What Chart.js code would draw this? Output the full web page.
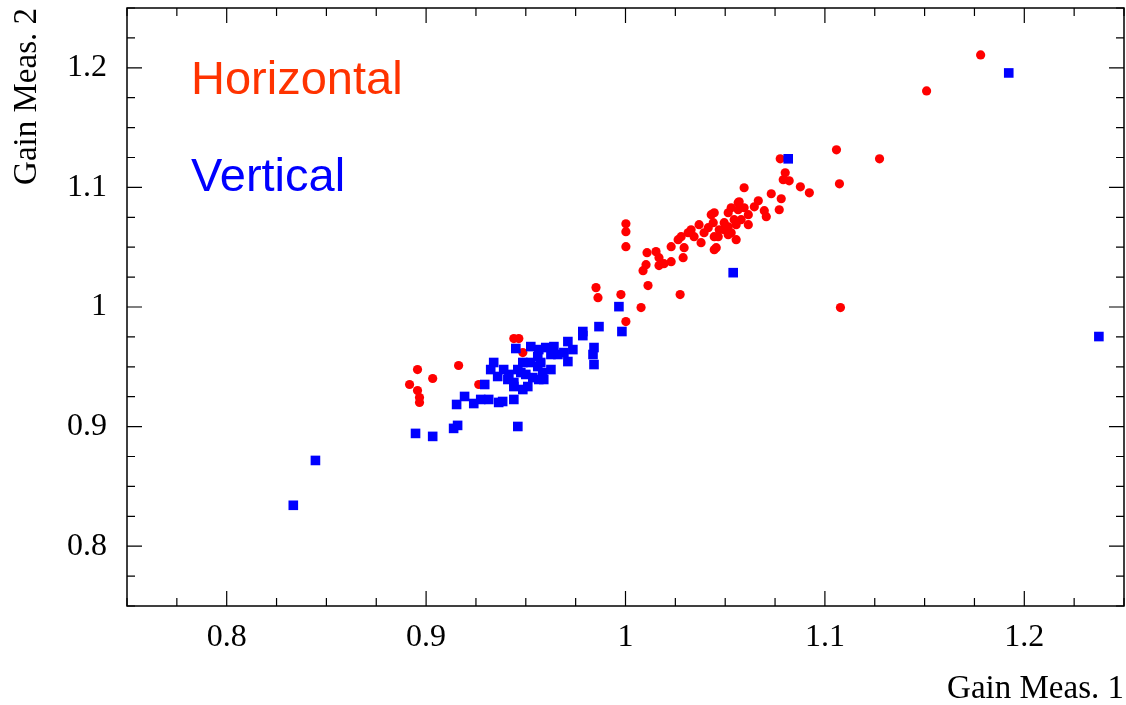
<!DOCTYPE html>
<html>
<head>
<meta charset="utf-8">
<script src="https://cdn.jsdelivr.net/npm/chart.js@4/dist/chart.umd.min.js"></script>
<style>
  html, body { margin: 0; padding: 0; background: #fff; overflow: hidden; }
  #wrap { width: 1126px; height: 705px; position: relative; }
</style>
</head>
<body>
<div id="wrap"><canvas id="chartGain"></canvas></div>
<script>
// Horizontal (red circles)
const horizX = [0.8917, 0.8957, 0.9033, 0.8957, 0.8967, 0.8967, 0.9163, 0.9264, 0.9440, 0.9465,
  0.9485, 0.9852, 0.9862, 0.9977, 1.0002, 1.0078, 1.0113, 1.0274, 1.0002, 1.0002,
  1.0002, 1.0088, 1.0103, 1.0108, 1.0153, 1.0168, 1.0168, 1.0193, 1.0229, 1.0229,
  1.0264, 1.0279, 1.0294, 1.0289, 1.0314, 1.0329, 1.0344, 1.0369, 1.0379, 1.0394,
  1.0415, 1.0430, 1.0440, 1.0445, 1.0455, 1.0470, 1.0495, 1.0515, 1.0530, 1.0545,
  1.0555, 1.0565, 1.0530, 1.0445, 1.0445, 1.0465, 1.0495, 1.0515, 1.0515, 1.0555,
  1.0565, 1.0570, 1.0580, 1.0595, 1.0595, 1.0616, 1.0616, 1.0646, 1.0666, 1.0696,
  1.0706, 1.0731, 1.0771, 1.0781, 1.0776, 1.0801, 1.0791, 1.0821, 1.0877, 1.0922,
  1.1058, 1.1073, 1.1078, 1.1274, 1.1510, 1.1781];
const horizY = [0.9352, 0.9477, 0.9402, 0.9302, 0.9243, 0.9202, 0.9511, 0.9352, 0.9736, 0.9736,
  0.9619, 1.0162, 1.0078, 1.0104, 0.9878, 0.9995, 1.0179, 1.0104, 1.0696, 1.0630,
  1.0504, 1.0304, 1.0354, 1.0454, 1.0463, 1.0412, 1.0346, 1.0362, 1.0379, 1.0504,
  1.0563, 1.0588, 1.0496, 1.0412, 1.0621, 1.0646, 1.0588, 1.0688, 1.0538, 1.0621,
  1.0663, 1.0772, 1.0705, 1.0588, 1.0496, 1.0646, 1.0705, 1.0788, 1.0830, 1.0730,
  1.0688, 1.0872, 1.0621, 1.0788, 1.0479, 1.0588, 1.0646, 1.0671, 1.0604, 1.0563,
  1.0813, 1.0880, 1.0730, 1.0997, 1.0830, 1.0772, 1.0688, 1.0838, 1.0888, 1.0805,
  1.0755, 1.0947, 1.0813, 1.0905, 1.1239, 1.1122, 1.1064, 1.1055, 1.1005, 1.0955,
  1.1314, 1.1030, 0.9995, 1.1239, 1.1807, 1.2108];

// Vertical (blue squares)
const vertX = [0.8334, 0.8445, 0.8947, 0.9033, 0.9138, 0.9158, 0.9153, 0.9193, 0.9239, 0.9274,
  0.9314, 0.9364, 0.9440, 0.9460, 0.9384, 0.9339, 0.9324, 0.9294, 0.9359, 0.9389,
  0.9415, 0.9440, 0.9460, 0.9485, 0.9500, 0.9485, 0.9440, 0.9410, 0.9510, 0.9535,
  0.9450, 0.9525, 0.9565, 0.9525, 0.9560, 0.9585, 0.9590, 0.9560, 0.9600, 0.9641,
  0.9626, 0.9661, 0.9691, 0.9711, 0.9736, 0.9711, 0.9786, 0.9786, 0.9867, 0.9842,
  0.9837, 0.9842, 0.9565, 0.9626, 0.9575, 0.9475, 0.9967, 0.9982, 1.0540, 1.0816,
  1.1922, 1.2374];
const vertY = [0.8342, 0.8717, 0.8943, 0.8918, 0.8985, 0.9010, 0.9185, 0.9252, 0.9193, 0.9227,
  0.9227, 0.9202, 0.9227, 0.9001, 0.9210, 0.9536, 0.9477, 0.9352, 0.9419, 0.9477,
  0.9436, 0.9369, 0.9477, 0.9536, 0.9436, 0.9310, 0.9335, 0.9394, 0.9335, 0.9410,
  0.9653, 0.9669, 0.9644, 0.9536, 0.9502, 0.9452, 0.9394, 0.9586, 0.9661, 0.9669,
  0.9603, 0.9603, 0.9619, 0.9711, 0.9644, 0.9544, 0.9795, 0.9761, 0.9836, 0.9661,
  0.9603, 0.9519, 0.9394, 0.9477, 0.9536, 0.9452, 1.0003, 0.9795, 1.0287, 1.1239,
  1.1957, 0.9753];

// axes
const xTickValues = [0.8, 0.9, 1.0, 1.1, 1.2];
const xTickLabels = ['0.8', '0.9', '1', '1.1', '1.2'];
const yTickValues = [0.8, 0.9, 1.0, 1.1, 1.2];
const yTickLabels = ['0.8', '0.9', '1', '1.1', '1.2'];
const axisMin = 0.75, axisMax = 1.25, minorStep = 0.025;

const serif = '"Liberation Serif", "DejaVu Serif", serif';

function toPoints(xs, ys) {
    return xs.map((x, i) => ({ x: x, y: ys[i] }));
}

// frame with inward ticks on all four sides + legend text
const framePlugin = {
    id: 'frame',
    afterDraw(chart) {
        const { ctx, chartArea: a } = chart;
        const sx = chart.scales.x, sy = chart.scales.y;
        ctx.save();
        ctx.strokeStyle = '#000';
        ctx.lineWidth = 1.5;
        ctx.strokeRect(a.left, a.top, a.right - a.left, a.bottom - a.top);

        ctx.lineWidth = 1.2;
        ctx.beginPath();
        for (let v = axisMin; v <= axisMax + 1e-9; v += minorStep) {
            const major = xTickValues.some(t => Math.abs(t - v) < 1e-6);
            const len = major ? 15 : 8;
            const px = sx.getPixelForValue(v);
            ctx.moveTo(px, a.bottom); ctx.lineTo(px, a.bottom - len);
            ctx.moveTo(px, a.top); ctx.lineTo(px, a.top + len);
            const py = sy.getPixelForValue(v);
            const ymajor = yTickValues.some(t => Math.abs(t - v) < 1e-6);
            const ylen = ymajor ? 15 : 8;
            ctx.moveTo(a.left, py); ctx.lineTo(a.left + ylen, py);
            ctx.moveTo(a.right, py); ctx.lineTo(a.right - ylen, py);
        }
        ctx.stroke();

        ctx.font = '47px "Liberation Sans", Arial, sans-serif';
        ctx.textAlign = 'left';
        ctx.textBaseline = 'alphabetic';
        ctx.fillStyle = 'rgb(255,51,0)';
        ctx.fillText('Horizontal', a.left + 64, a.top + 86);
        ctx.fillStyle = '#0000ff';
        ctx.fillText('Vertical', a.left + 64, a.top + 183);
        ctx.restore();
    }
};

const ctx = document.getElementById('chartGain').getContext('2d');
const chartGain = new Chart(ctx, {
    type: 'scatter',
    data: {
        datasets: [
            {
                label: 'Vertical',
                data: toPoints(vertX, vertY),
                pointStyle: 'rect',
                pointRadius: 6.8,
                pointHoverRadius: 6.8,
                borderWidth: 0,
                backgroundColor: '#0000ff',
                order: 0
            },
            {
                label: 'Horizontal',
                data: toPoints(horizX, horizY),
                pointStyle: 'circle',
                pointRadius: 4.6,
                pointHoverRadius: 4.6,
                borderWidth: 0,
                backgroundColor: '#ff0000',
                order: 1
            }
        ]
    },
    options: {
        responsive: true,
        maintainAspectRatio: false,
        animation: false,
        layout: { autoPadding: false, padding: { top: 8, right: 2, left: 0, bottom: 0 } },
        plugins: { legend: { display: false }, tooltip: { enabled: false } },
        scales: {
            x: {
                type: 'linear',
                min: axisMin,
                max: axisMax,
                grid: { display: false, drawTicks: false },
                border: { display: false },
                afterBuildTicks: s => { s.ticks = xTickValues.map(v => ({ value: v })); },
                afterFit: s => {
                    s.height = 99;
                    s.paddingLeft = 0; s.paddingRight = 0;
                    s.paddingTop = 0; s.paddingBottom = 0;
                },
                ticks: {
                    padding: 12,
                    color: '#000',
                    font: { family: serif, size: 32 },
                    maxRotation: 0,
                    callback: (v, i) => xTickLabels[i]
                },
                title: {
                    display: true,
                    text: 'Gain Meas. 1',
                    align: 'end',
                    color: '#000',
                    font: { family: serif, size: 33 },
                    padding: { top: 0, bottom: -4 }
                }
            },
            y: {
                type: 'linear',
                min: axisMin,
                max: axisMax,
                grid: { display: false, drawTicks: false },
                border: { display: false },
                afterBuildTicks: s => { s.ticks = yTickValues.map(v => ({ value: v })); },
                afterFit: s => {
                    s.width = 127;
                    s.paddingLeft = 0; s.paddingRight = 0;
                    s.paddingTop = 0; s.paddingBottom = 0;
                },
                ticks: {
                    padding: 20,
                    color: '#000',
                    font: { family: serif, size: 32 },
                    callback: (v, i) => yTickLabels[i]
                },
                title: {
                    display: true,
                    text: 'Gain Meas. 2',
                    align: 'end',
                    color: '#000',
                    font: { family: serif, size: 33 },
                    padding: { top: 8, bottom: 0 }
                }
            }
        }
    },
    plugins: [framePlugin]
});
</script>
</body>
</html>
